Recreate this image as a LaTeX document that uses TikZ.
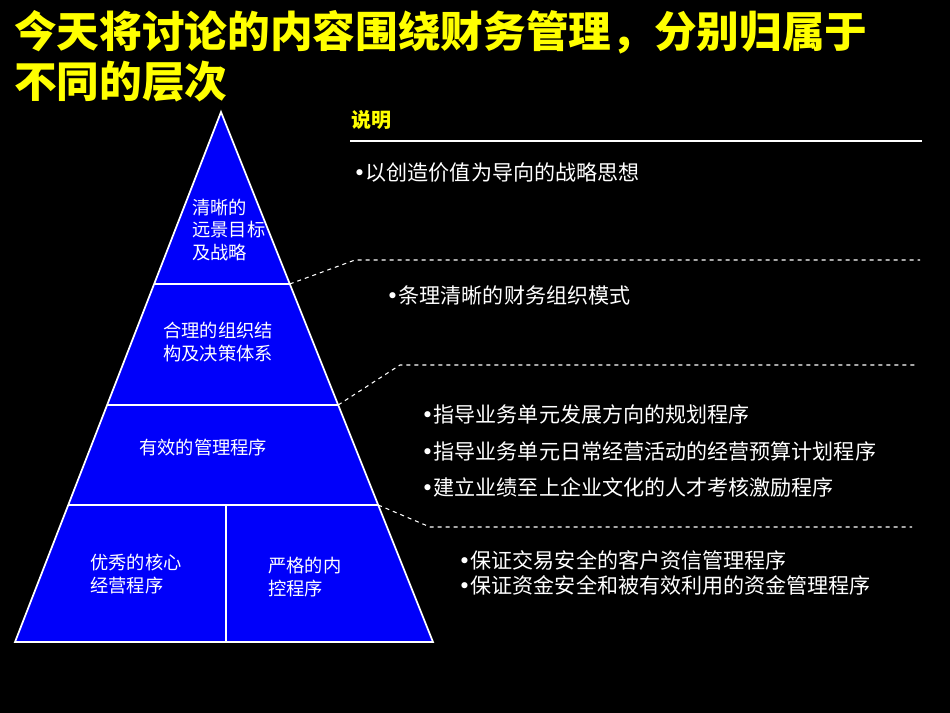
\documentclass[tikz,border=0pt]{standalone}
\usepackage{fontspec}
\setmainfont{Noto Sans CJK SC}
\newfontfamily\dotfont{DejaVu Sans}
\usetikzlibrary{calc}
\definecolor{ttlyellow}{RGB}{255,255,0}
\definecolor{pyrblue}{RGB}{0,0,250}
\newcommand{\bul}{{\dotfont •}}
\tikzset{
	layertext/.style = {anchor = west, align = left, text = white, inner sep = 0pt, font = \fontsize{13.7}{17}\selectfont},
	bullettext/.style = {anchor = west, align = left, text = white, inner sep = 0pt, font = \fontsize{15.8}{20}\selectfont},
	link/.style = {draw = white, dashed, line width = 0.8pt}
}

\begin{document}
\begin{tikzpicture}[x = 0.75pt, y = -0.75pt]
	\fill[black] (0,0) rectangle (950,713);
	\useasboundingbox (0,0) rectangle (950,713);
	% title
	\node[anchor = west, align = left, text = ttlyellow, inner sep = 0pt, font = \fontsize{32}{37.5}\selectfont\bfseries]
		(TTL) at (14,56) {今天将讨论的内容围绕财务管理，分别归属于\\不同的层次};
	% pyramid
	\coordinate (TOP) at (221,112);
	\coordinate (BL) at (15,642);
	\coordinate (BR) at (433,642);
	\coordinate (L1) at ($(TOP)!0.3245!(BL)$);
	\coordinate (R1) at ($(TOP)!0.3245!(BR)$);
	\coordinate (L2) at ($(TOP)!0.5528!(BL)$);
	\coordinate (R2) at ($(TOP)!0.5528!(BR)$);
	\coordinate (L3) at ($(TOP)!0.7415!(BL)$);
	\coordinate (R3) at ($(TOP)!0.7415!(BR)$);
	\coordinate (M3) at (226,505);
	\coordinate (MB) at (226,642);
	\fill[pyrblue] (TOP) -- (BL) -- (BR) -- cycle;
	\draw[white, line width = 1.3pt, line join = miter] (TOP) -- (BL) -- (BR) -- cycle
	(L1) -- (R1) (L2) -- (R2) (L3) -- (R3) (M3) -- (MB);
	\node[layertext] (VIS) at (192,230) {清晰的\\远景目标\\及战略};
	\node[layertext] (ORG) at (163,342) {合理的组织结\\构及决策体系};
	\node[layertext] (MGT) at (139,448) {有效的管理程序};
	\node[layertext] (COR) at (90,574) {优秀的核心\\经营程序};
	\node[layertext] (CTL) at (268,577) {严格的内\\控程序};
	% notes
	\node[anchor = west, inner sep = 0pt, text = ttlyellow, font = \fontsize{15}{18}\selectfont\bfseries] (HDR) at (351,120) {说明};
	\coordinate (HL) at (350,141);
	\coordinate (HR) at (922,141);
	\draw[white, line width = 1pt] (HL) -- (HR);
	\node[bullettext] (N1) at (353,173) {\bul 以创造价值为导向的战略思想};
	\node[bullettext] (N2) at (386,295) {\bul 条理清晰的财务组织模式};
	\node[bullettext] (N3) at (421,451) {\bul 指导业务单元发展方向的规划程序\\[7.5pt]\bul 指导业务单元日常经营活动的经营预算计划程序\\[7.5pt]\bul 建立业绩至上企业文化的人才考核激励程序};
	\node[bullettext] (N4) at (458,573) {\bul 保证交易安全的客户资信管理程序\\[-1pt]\bul 保证资金安全和被有效利用的资金管理程序};
	% links
	\coordinate (K1) at (355,260);
	\coordinate (E1) at (920,260);
	\coordinate (K2) at (400,365);
	\coordinate (E2) at (917,365);
	\coordinate (K3) at (430,527);
	\coordinate (E3) at (912,527);
	\draw[link] (R1) -- (K1) -- (E1);
	\draw[link] (R2) -- (K2) -- (E2);
	\draw[link] (R3) -- (K3) -- (E3);
\end{tikzpicture}
\end{document}
